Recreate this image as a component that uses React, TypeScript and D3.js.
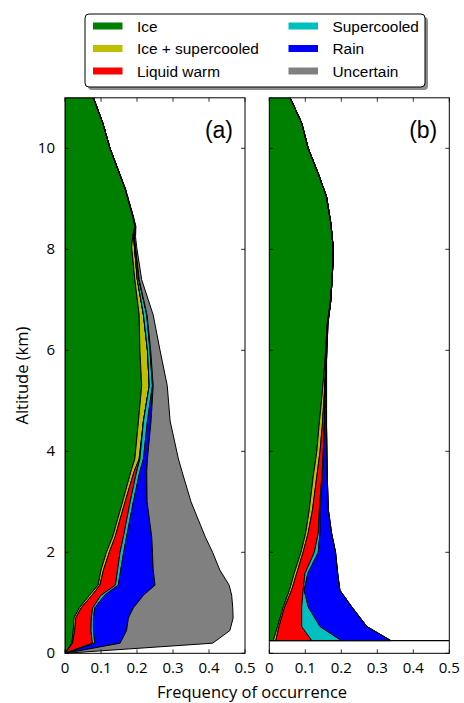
import * as d3 from "d3";
import React from "react";

// classes, colours and legend order (column-major, 3 rows)
const classNames = ["Ice", "Ice + supercooled", "Liquid warm", "Supercooled", "Rain", "Uncertain"];
const classKeys = ["ice", "iceSc", "liquidWarm", "supercooled", "rain", "uncertain"];
const classColors = ["#008000", "#bfbf00", "#ff0000", "#00bfbf", "#0000ff", "#808080"];

const xTicks = [0, 0.1, 0.2, 0.3, 0.4, 0.5];
const xTickLabels = ["0", "0.1", "0.2", "0.3", "0.4", "0.5"];
const yTicks = [0, 2, 4, 6, 8, 10];

// panel (a): frequency of each class by altitude (km)
const altA = [0, 0.2, 0.45, 0.7, 0.9, 1.15, 1.35, 1.65, 2.0, 2.3, 3.0, 3.6, 3.85, 4.6, 5.3, 6.0, 6.7, 7.4, 8.05, 8.25, 8.45, 8.65, 9.2, 10, 10.5, 11];
const iceA = [0, 0.019, 0.023, 0.025, 0.04, 0.068, 0.092, 0.1, 0.115, 0.132, 0.16, 0.183, 0.194, 0.204, 0.213, 0.208, 0.206, 0.194, 0.185, 0.188, 0.194, 0.188, 0.167, 0.125, 0.105, 0.079];
const iceScA = [0, 0.002, 0.004, 0.005, 0.005, 0.007, 0.005, 0.007, 0.008, 0.007, 0.007, 0.009, 0.012, 0.014, 0.021, 0.021, 0.012, 0.007, 0.008, 0.003, 0.001, 0.001, 0, 0, 0, 0];
const liquidWarmA = [0, 0.055, 0.045, 0.043, 0.032, 0.025, 0.043, 0.039, 0.03, 0.023, 0.014, 0.007, 0.002, 0, 0, 0, 0, 0, 0, 0, 0, 0, 0, 0, 0, 0];
const supercooledA = [0, 0.007, 0.007, 0.006, 0.006, 0.01, 0.008, 0.009, 0.01, 0.009, 0.009, 0.009, 0.01, 0.011, 0.009, 0.007, 0.009, 0.004, 0.002, 0.001, 0, 0, 0, 0, 0, 0];
const rainA = [0, 0.07, 0.092, 0.097, 0.107, 0.108, 0.102, 0.09, 0.08, 0.07, 0.038, 0.019, 0.011, 0.01, 0.002, 0.002, 0.001, 0.001, 0.001, 0.001, 0.001, 0, 0, 0, 0, 0];
const uncertainA = [0, 0.257, 0.287, 0.291, 0.276, 0.245, 0.206, 0.185, 0.167, 0.149, 0.122, 0.098, 0.086, 0.053, 0.039, 0.026, 0.017, 0.007, 0.003, 0.003, 0.001, 0.001, 0.001, 0, 0, 0];

// panel (b)
const altB = [0.25, 0.53, 0.92, 1.25, 1.58, 2.0, 2.38, 2.84, 3.5, 4.0, 4.49, 5.15, 5.81, 6.53, 6.93, 7.46, 8.0, 8.51, 9.04, 9.5, 10, 10.5, 11];
const iceB = [0.011, 0.023, 0.039, 0.056, 0.069, 0.088, 0.101, 0.111, 0.122, 0.132, 0.138, 0.147, 0.155, 0.161, 0.169, 0.175, 0.178, 0.171, 0.159, 0.136, 0.108, 0.09, 0.058];
const iceScB = [0.007, 0.004, 0.004, 0.006, 0.007, 0.006, 0.007, 0.009, 0.01, 0.009, 0.009, 0.006, 0.002, 0.001, 0.001, 0, 0, 0, 0, 0, 0, 0, 0];
const liquidWarmB = [0.1, 0.063, 0.047, 0.032, 0.023, 0.031, 0.028, 0.019, 0.014, 0.009, 0.006, 0.002, 0, 0, 0, 0, 0, 0, 0, 0, 0, 0, 0];
const supercooledB = [0.083, 0.051, 0.018, 0.003, 0.008, 0.011, 0.005, 0.002, 0.002, 0.001, 0, 0, 0, 0, 0, 0, 0, 0, 0, 0, 0, 0, 0];
const rainB = [0.137, 0.13, 0.121, 0.099, 0.083, 0.048, 0.032, 0.023, 0.013, 0.009, 0.006, 0.004, 0.002, 0.001, 0, 0, 0, 0, 0, 0, 0, 0, 0];
const uncertainB = [0, 0, 0, 0, 0, 0, 0, 0, 0, 0, 0, 0, 0, 0, 0, 0, 0, 0, 0, 0, 0, 0, 0];
const floorB = 0.25;

const top = 97.8;
const bottom = 653.3;
const panelW = 180;
const tickFont = "'Open Sans', sans-serif";
const legendFont = "'Liberation Sans', Arial, sans-serif";

interface PanelProps {
  id: string;
  left: number;
  alt: number[];
  series: number[][];
  label: string;
  showYLabels: boolean;
  floor?: number;
}

function Panel({ id, left, alt, series, label, showYLabels, floor }: PanelProps) {
  const x = d3.scaleLinear().domain([0, 0.5]).range([left, left + panelW]);
  const y = d3.scaleLinear().domain([0, 11]).range([bottom, top]);

  const rows = alt.map((h, i) => {
    const r: Record<string, number> = { alt: h };
    classKeys.forEach((k, j) => (r[k] = series[j][i]));
    return r;
  });
  const stacked = d3.stack<Record<string, number>>().keys(classKeys)(rows);
  const area = d3
    .area<d3.SeriesPoint<Record<string, number>>>()
    .x0((d) => x(d[0]))
    .x1((d) => x(d[1]))
    .y((d) => y(d.data.alt));

  const right = left + panelW;

  return (
    <g>
      <defs>
        <clipPath id={`clip-${id}`}>
          <rect x={left} y={top} width={panelW} height={bottom - top} />
        </clipPath>
      </defs>
      <g clipPath={`url(#clip-${id})`}>
        {stacked.map((s, i) => (
          <path
            key={s.key}
            d={area(s) || ""}
            fill={classColors[i]}
            stroke="#000"
            strokeWidth={1}
            strokeLinejoin="round"
          />
        ))}
        {floor !== undefined && (
          <line x1={left} x2={right} y1={y(floor)} y2={y(floor)} stroke="#000" strokeWidth={1.2} />
        )}
      </g>
      {/* ticks, inside on all four sides */}
      {xTicks.map((t, i) => (
        <g key={`xt-${i}`}>
          <line x1={x(t)} x2={x(t)} y1={bottom} y2={bottom - 4} stroke="#000" strokeWidth={0.8} />
          <line x1={x(t)} x2={x(t)} y1={top} y2={top + 4} stroke="#000" strokeWidth={0.8} />
          <text
            x={x(t)}
            y={bottom + 20}
            textAnchor="middle"
            fontFamily={tickFont}
            fontSize={15}
            fill="#000"
          >
            {xTickLabels[i]}
          </text>
        </g>
      ))}
      {yTicks.map((t) => (
        <g key={`yt-${t}`}>
          <line x1={left} x2={left + 4} y1={y(t)} y2={y(t)} stroke="#000" strokeWidth={0.8} />
          <line x1={right} x2={right - 4} y1={y(t)} y2={y(t)} stroke="#000" strokeWidth={0.8} />
          {showYLabels && (
            <text
              x={left - 10}
              y={y(t) + 5}
              textAnchor="end"
              fontFamily={tickFont}
              fontSize={15}
              fill="#000"
            >
              {t}
            </text>
          )}
        </g>
      ))}
      <rect x={left} y={top} width={panelW} height={bottom - top} fill="none" stroke="#000" strokeWidth={1} />
      <text
        x={right - 12}
        y={top + 40}
        textAnchor="end"
        fontFamily={legendFont}
        fontSize={23}
        fill="#000"
      >
        {label}
      </text>
    </g>
  );
}

function Legend() {
  const boxX = 85;
  const boxY = 14;
  const boxW = 340;
  const boxH = 73;
  const colX = [93, 288.5];
  const rowY = [26, 48.5, 71];
  return (
    <g>
      <rect x={boxX + 3} y={boxY + 3} width={boxW} height={boxH} rx={4} fill="#8c8c8c" />
      <rect x={boxX} y={boxY} width={boxW} height={boxH} rx={4} fill="#fff" stroke="#000" strokeWidth={1} />
      {classNames.map((name, i) => {
        const col = Math.floor(i / 3);
        const row = i % 3;
        return (
          <g key={name}>
            <rect x={colX[col]} y={rowY[row] - 3.5} width={29.5} height={7} fill={classColors[i]} />
            <text
              x={colX[col] + 44}
              y={rowY[row] + 5.5}
              fontFamily={legendFont}
              fontSize={15.4}
              fill="#000"
            >
              {name}
            </text>
          </g>
        );
      })}
    </g>
  );
}

export default function App() {
  return (
    <svg
      width={464}
      height={703}
      style={{ position: "absolute", left: 0, top: 0, background: "#fff" }}
    >
      <rect x={0} y={0} width={464} height={703} fill="#fff" />
      <Panel
        id="a"
        left={65}
        alt={altA}
        series={[iceA, iceScA, liquidWarmA, supercooledA, rainA, uncertainA]}
        label="(a)"
        showYLabels={true}
      />
      <Panel
        id="b"
        left={269.3}
        alt={altB}
        series={[iceB, iceScB, liquidWarmB, supercooledB, rainB, uncertainB]}
        label="(b)"
        showYLabels={false}
        floor={floorB}
      />
      <Legend />
      <text
        transform={`translate(28, ${(top + bottom) / 2}) rotate(-90)`}
        textAnchor="middle"
        fontFamily={tickFont}
        fontSize={16.5}
        fill="#000"
      >
        Altitude (km)
      </text>
      <text x={252} y={698} textAnchor="middle" fontFamily={tickFont} fontSize={16.5} fill="#000">
        Frequency of occurrence
      </text>
    </svg>
  );
}
